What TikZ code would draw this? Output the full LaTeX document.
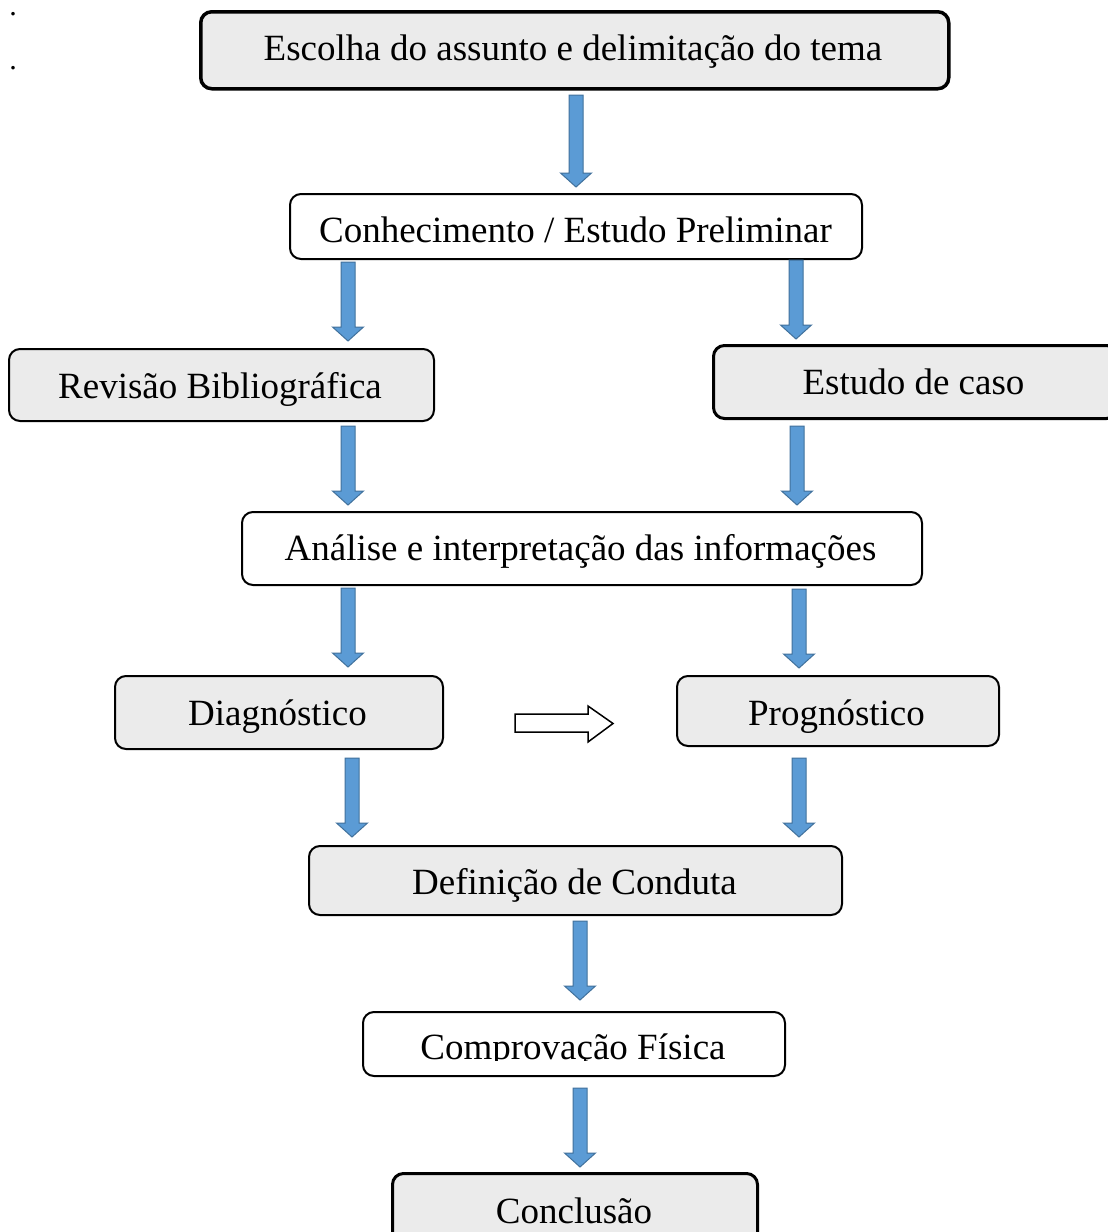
\documentclass[tikz,border=0pt]{standalone}
\usepackage{fontspec}
\setmainfont{Liberation Serif}
\definecolor{boxgray}{RGB}{235,235,235}
\definecolor{arrfill}{RGB}{91,155,213}
\definecolor{arrdraw}{RGB}{65,113,156}
\newcommand\blockarrow[4]{% name, x, ytop, ybot
  \coordinate (#1) at (#2,#4);
  \draw[barrow] ({#2-7},#3) -- ({#2+7},#3) -- ({#2+7},{#4-14}) -- ({#2+15.5},{#4-14})
    -- (#2,#4) -- ({#2-15.5},{#4-14}) -- ({#2-7},{#4-14}) -- cycle;}
\begin{document}
\begin{tikzpicture}[x=1pt,y=-1pt,
  box/.style={draw=black, rounded corners=11pt, inner sep=0pt, anchor=north west, line width=2pt},
  grayb/.style={box, fill=boxgray},
  whiteb/.style={box, fill=white},
  lbl/.style={anchor=base, inner sep=0pt, font=\fontsize{37}{40}\selectfont},
  dotlbl/.style={anchor=base, inner sep=0pt, font=\fontsize{30}{32}\selectfont},
  barrow/.style={fill=arrfill, draw=arrdraw, line width=1pt, line join=miter},
  harrow/.style={fill=white, draw=black, line width=1.5pt, line join=miter}]
\clip (0,0) rectangle (1108,1232);
\fill[white] (0,0) rectangle (1108,1232);

\node[dotlbl] (d1) at (13,15.5) {.};
\node[dotlbl] (d2) at (13,69.5) {.};

% boxes
\node[grayb, line width=3.5pt, minimum width=748pt, minimum height=77pt] (esc) at (199,10) {};
\node[whiteb, minimum width=572pt, minimum height=65pt] (con) at (289,193) {};
\node[grayb, minimum width=425pt, minimum height=72pt] (rev) at (8,348) {};
\node[grayb, line width=3pt, minimum width=404pt, minimum height=73pt] (est) at (712,344) {};
\node[whiteb, minimum width=680pt, minimum height=73pt] (ana) at (241,511) {};
\node[grayb, minimum width=328pt, minimum height=73pt] (dia) at (114,675) {};
\node[grayb, minimum width=322pt, minimum height=70pt] (pro) at (676,675) {};
\node[grayb, minimum width=533pt, minimum height=69pt] (def) at (308,845) {};
\node[whiteb, minimum width=422pt, minimum height=64pt] (com) at (362,1011) {};
\node[grayb, line width=3pt, minimum width=365pt, minimum height=80pt] (cnc) at (391,1172) {};

% texts
\node[lbl] (tesc) at (573,60) {Escolha do assunto e delimitação do tema};
\node[lbl] (tcon) at (575.5,242) {Conhecimento / Estudo Preliminar};
\node[lbl] (trev) at (220,398) {Revisão Bibliográfica};
\node[lbl] (test) at (913.5,394) {Estudo de caso};
\node[lbl] (tana) at (580.5,560) {Análise e interpretação das informações};
\node[lbl] (tdia) at (277.5,725) {Diagnóstico};
\node[lbl] (tpro) at (836.5,725) {Prognóstico};
\node[lbl] (tdef) at (574.5,894) {Definição de Conduta};
\begin{scope}
  \clip (300,1000) rectangle (850,1060);
  \node[lbl] (tcom) at (573,1059) {Comprovação Física};
\end{scope}
\node[lbl] (tcnc) at (574,1223) {Conclusão};

% block arrows
\blockarrow{a1}{576}{95}{187}
\blockarrow{a2}{348}{262}{341}
\blockarrow{a3}{796}{260}{339}
\blockarrow{a4}{348}{426}{505}
\blockarrow{a5}{797}{426}{505}
\blockarrow{a6}{348}{588}{667}
\blockarrow{a7}{799}{589}{668}
\blockarrow{a8}{352}{758}{837}
\blockarrow{a9}{799}{758}{837}
\blockarrow{a10}{580}{921}{1000}
\blockarrow{a11}{580}{1088}{1167}

% hollow arrow
\draw[harrow] (515,714) -- (588,714) -- (588,706) -- (613,723.5) -- (588,742) -- (588,732) -- (515,732) -- cycle;
\end{tikzpicture}
\end{document}
